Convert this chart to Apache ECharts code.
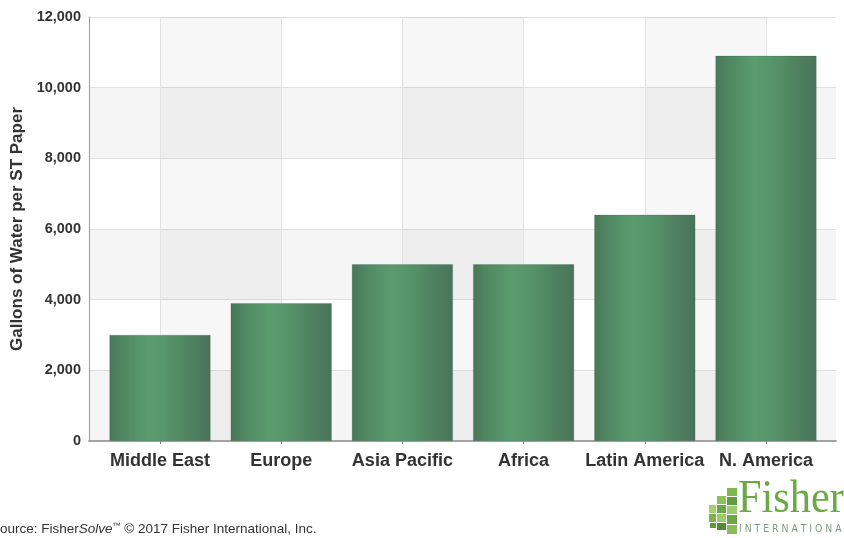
<!DOCTYPE html>
<html>
<head>
<meta charset="utf-8">
<script src="https://cdn.jsdelivr.net/npm/echarts@6/dist/echarts.min.js"></script>
<style>
html,body{margin:0;padding:0;background:#fff;}
#chart{width:844px;height:538px;}
</style>
</head>
<body>
<div id="chart"></div>
<script>
var categories = ['Middle East', 'Europe', 'Asia Pacific', 'Africa', 'Latin America', 'N. America'];
var values = [3000, 3900, 5000, 5000, 6400, 10900];
var yTicks = [0, 2000, 4000, 6000, 8000, 10000, 12000];
var yAxisTitle = 'Gallons of Water per ST Paper';
var sourceText = 'Source: Fisher{it|Solve}{tm|™} © 2017 Fisher International, Inc.';

var chart = echarts.init(document.getElementById('chart'));
var yMin = yTicks[0], yMax = yTicks[yTicks.length - 1], yStep = yTicks[1] - yTicks[0];

var barGradient = new echarts.graphic.LinearGradient(0, 0, 1, 0, [
  {offset: 0, color: '#487758'},
  {offset: 0.12, color: '#4f8660'},
  {offset: 0.38, color: '#5a9c6e'},
  {offset: 0.55, color: '#57956a'},
  {offset: 0.8, color: '#4f8160'},
  {offset: 1, color: '#4a735a'}
]);

chart.setOption({
  animation: false,
  grid: [
    {left: 89, right: 8, top: 17, bottom: 97},
    {left: 160, right: 78, top: 17, bottom: 97}
  ],
  xAxis: [
    {
      gridIndex: 0, type: 'value', min: 0, max: 1,
      axisLine: {show: true, lineStyle: {color: '#a3a3a3', width: 2}},
      axisTick: {show: false}, axisLabel: {show: false}, splitLine: {show: false}
    },
    {
      gridIndex: 1, type: 'category', data: categories, boundaryGap: false,
      axisLine: {show: false},
      axisTick: {show: true, interval: 0, length: 3, lineStyle: {color: '#888'}},
      axisLabel: {
        interval: 0, margin: 11, color: '#333', fontFamily: 'Liberation Sans, Arial, sans-serif',
        fontWeight: 'bold', fontSize: 18
      },
      splitLine: {show: true, interval: 0, lineStyle: {color: '#e2e2e2', width: 1}},
      splitArea: {show: true, interval: 0, areaStyle: {color: ['rgba(0,0,0,0.03)', 'rgba(0,0,0,0)']}}
    }
  ],
  yAxis: [
    {
      gridIndex: 0, type: 'value', min: yMin, max: yMax, interval: yStep,
      name: yAxisTitle, nameLocation: 'middle', nameGap: 62,
      nameTextStyle: {color: '#333', fontFamily: 'Liberation Sans, Arial, sans-serif', fontWeight: 'bold', fontSize: 17},
      axisLine: {show: true, lineStyle: {color: '#9a9a9a', width: 1}},
      axisTick: {show: false},
      axisLabel: {
        margin: 8, color: '#333', fontFamily: 'Liberation Sans, Arial, sans-serif',
        fontWeight: 'bold', fontSize: 14.5,
        formatter: function (v) { return v.toLocaleString('en-US'); }
      },
      splitLine: {show: true, lineStyle: {color: '#e0e0e0', width: 1}},
      splitArea: {show: true, areaStyle: {color: ['rgba(0,0,0,0.04)', 'rgba(0,0,0,0)']}}
    },
    {
      gridIndex: 1, type: 'value', min: yMin, max: yMax, interval: yStep, show: false
    }
  ],
  series: [{
    type: 'bar', xAxisIndex: 1, yAxisIndex: 1, data: values,
    barWidth: 101, clip: false, z: 5,
    itemStyle: {color: barGradient, borderColor: 'rgba(60,100,70,0.5)', borderWidth: 0.5}
  }],
  graphic: [
    {
      type: 'text', left: -9, top: 522,
      style: {
        text: sourceText,
        fill: '#333', font: '13.5px "Liberation Sans", Arial, sans-serif',
        rich: {
          it: {fontStyle: 'italic', fontSize: 13.5, fontFamily: 'Liberation Sans', fill: '#333'},
          tm: {fontSize: 8, fontFamily: 'Liberation Sans', fill: '#333', verticalAlign: 'top', padding: [0,0,6,0]}
        }
      }
    },
    {type: 'rect', shape: {x: 709, y: 505, width: 7, height: 8}, style: {fill: '#a6cf74'}},
    {type: 'rect', shape: {x: 709, y: 514, width: 7, height: 8}, style: {fill: '#7fb24f'}},
    {type: 'rect', shape: {x: 710, y: 523, width: 6, height: 5}, style: {fill: '#5f9a3a'}},
    {type: 'rect', shape: {x: 717, y: 496, width: 9, height: 8}, style: {fill: '#8dc25b'}},
    {type: 'rect', shape: {x: 717, y: 505, width: 9, height: 8}, style: {fill: '#6aa845'}},
    {type: 'rect', shape: {x: 717, y: 514, width: 9, height: 8}, style: {fill: '#9ccb6a'}},
    {type: 'rect', shape: {x: 717, y: 523, width: 9, height: 7}, style: {fill: '#4f8c30'}},
    {type: 'rect', shape: {x: 727, y: 488, width: 10, height: 8}, style: {fill: '#7db84e'}},
    {type: 'rect', shape: {x: 727, y: 497, width: 10, height: 8}, style: {fill: '#5f9e3c'}},
    {type: 'rect', shape: {x: 727, y: 506, width: 10, height: 8}, style: {fill: '#9ccc6b'}},
    {type: 'rect', shape: {x: 727, y: 515, width: 10, height: 9}, style: {fill: '#6aa845'}},
    {type: 'rect', shape: {x: 727, y: 525, width: 10, height: 9}, style: {fill: '#86bd58'}},
    {
      type: 'text', x: 738, y: 523, scaleX: 0.9,
      style: {text: 'Fisher', fill: '#6aaa45', font: '47px "Liberation Serif", "Times New Roman", serif', textVerticalAlign: 'bottom'}
    },
    {
      type: 'text', x: 739, y: 524, scaleX: 0.93,
      style: {text: 'I N T E R N A T I O N A L', fill: '#7d9a80', font: '10px "DejaVu Sans", sans-serif'}
    }
  ]
});
</script>
</body>
</html>
